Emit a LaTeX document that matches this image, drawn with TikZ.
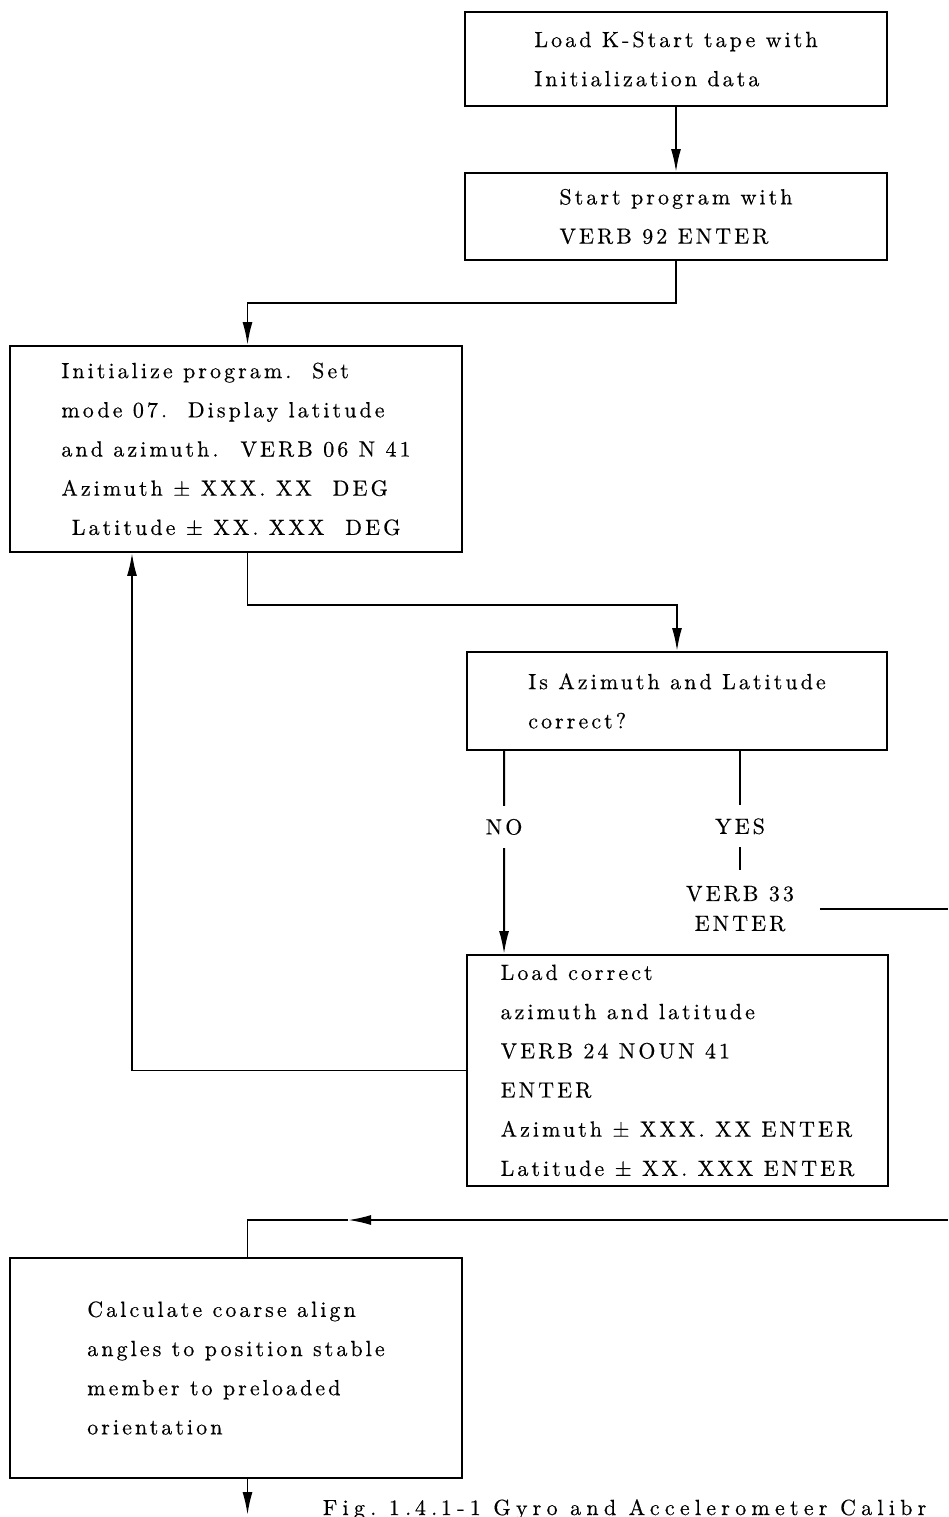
\documentclass[tikz,border=0pt]{standalone}
\usepackage{fontspec}
\setmainfont{lmroman10-regular.otf}[LetterSpace=14, FakeBold=0.4]
\usepackage{tikz}
\usetikzlibrary{arrows.meta}

\begin{document}
\begin{tikzpicture}[font=\fontsize{12.5}{22.3}\selectfont, x=1cm, y=1cm, line width=1.1pt]
\tikzstyle{box}=[draw, align=left, inner sep=0pt]
\tikzstyle{arr}=[-{Latex[length=4.6mm, width=2mm]}]
\tikzstyle{tag}=[fill=white, inner xsep=2pt, inner ysep=7.5pt]
\tikzstyle{note}=[align=center, inner xsep=0.5cm, inner ysep=0.3cm, font=\fontsize{12.5}{17}\selectfont]
\useasboundingbox (0,0) rectangle (18.96,-30.34);
\coordinate (lcol) at (4.95,0);
\coordinate (lloop) at (2.64,0);
\coordinate (rim) at (18.96,0);

\node[box, minimum width=8.44cm, minimum height=1.88cm] (load) at (13.52,-1.18) {Load K-Start tape with\\Initialization data};
\node[box, minimum width=8.44cm, minimum height=1.74cm] (start) at (13.52,-4.33) {Start program with\\VERB 92 ENTER};
\node[box, minimum width=9.04cm, minimum height=4.12cm] (init) at (4.72,-8.98) {Initialize program.\ \ Set\\mode 07.\ \ Display latitude\\and azimuth.\quad VERB 06 N 41\\Azimuth ± XXX. XX\ \ DEG\\\ Latitude ± XX. XXX\ \ DEG};
\node[box, minimum width=8.40cm, minimum height=1.96cm] (check) at (13.54,-14.02) {Is Azimuth and Latitude\\correct?};
\node[box, minimum width=8.42cm, minimum height=4.62cm] (fix) at (13.55,-21.41) {Load correct\\azimuth and latitude\\VERB 24 NOUN 41\\ENTER\\Azimuth ± XXX. XX ENTER\\Latitude ± XX. XXX ENTER};
\node[box, minimum width=9.04cm, minimum height=4.40cm] (calc) at (4.72,-27.36) {Calculate coarse align\\angles to position stable\\member to preloaded\\orientation};
\node[note, anchor=north] (verb) at (14.80,-17.40) {VERB 33\\ENTER};
\node[anchor=base west, inner sep=0pt, font=\fontsize{12.5}{15}\selectfont\addfontfeatures{LetterSpace=24}] (caption) at (6.44,-30.30) {Fig.\ 1.\,4.\,1-1\ Gyro and Accelerometer Calibr};

\coordinate (retmid) at (6.96,-24.40);
\coordinate (exit) at (4.95,-30.30);

\draw[arr] (load) -- (start);
\draw[arr] (start.south) -- ++(0,-0.84) -| (init.north -| lcol);
\draw[arr] (init.south -| lcol) -- ++(0,-1.04) -| (check.north);
\draw[arr] ([xshift=7.6mm]check.south west) -- node[tag, pos=0.374] {NO} ([xshift=7.6mm]fix.north west);
\draw (verb.north |- check.south) -- node[tag, pos=0.633] {YES} (verb.north);
\draw (verb.east) -- (verb.east -| rim);
\draw[arr] (fix.west) -| (init.south -| lloop);
\draw[arr] (retmid -| rim) -- (retmid);
\draw (retmid) -| (calc.north -| lcol);
\draw[arr] (calc.south -| lcol) -- (exit);
\end{tikzpicture}
\end{document}
